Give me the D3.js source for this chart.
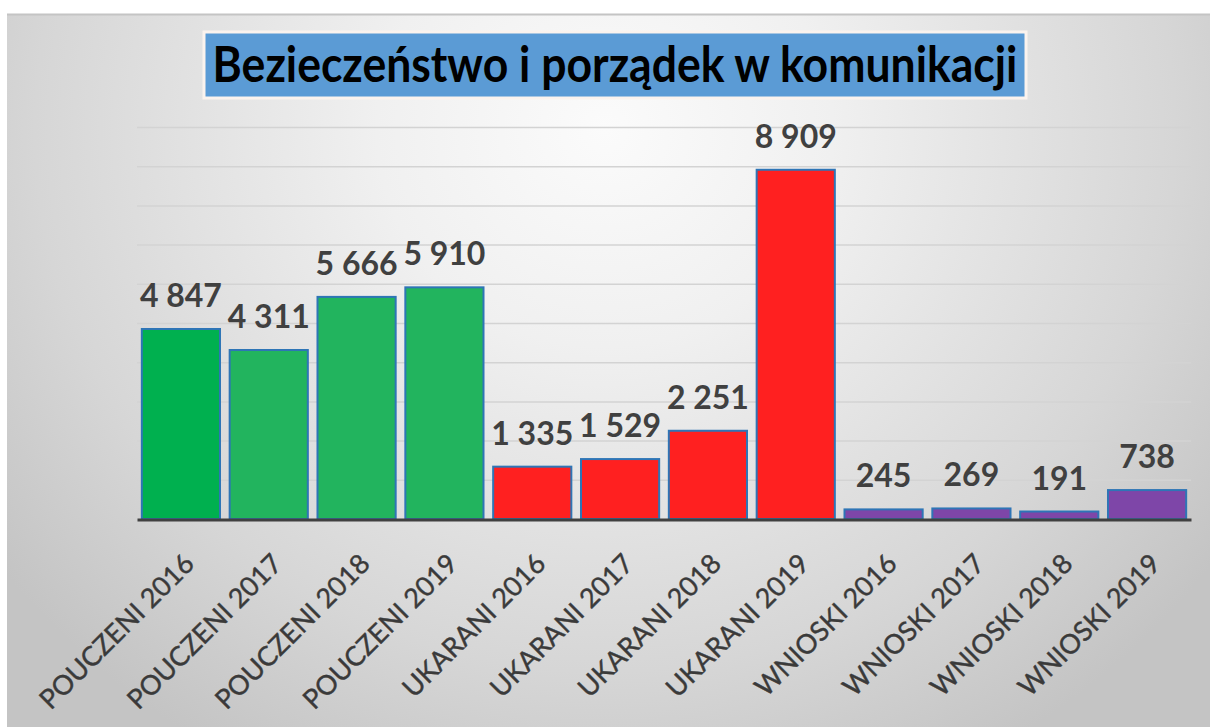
<!DOCTYPE html>
<html><head><meta charset="utf-8">
<script src="https://cdn.jsdelivr.net/npm/d3@7"></script>
<style>html,body{margin:0;padding:0;background:#fff;}svg{display:block;}</style>
</head><body>
<svg id="chart" width="1210" height="727"></svg>
<script>
const title = "Bezieczeństwo i porządek w komunikacji";
const categories = ["POUCZENI 2016","POUCZENI 2017","POUCZENI 2018","POUCZENI 2019",
  "UKARANI 2016","UKARANI 2017","UKARANI 2018","UKARANI 2019",
  "WNIOSKI 2016","WNIOSKI 2017","WNIOSKI 2018","WNIOSKI 2019"];
const values = [4847,4311,5666,5910,1335,1529,2251,8909,245,269,191,738];
const groups = ["POUCZENI","UKARANI","WNIOSKI"];
const yTicks = [0,1000,2000,3000,4000,5000,6000,7000,8000,9000,10000];

const svg = d3.select("#chart");
const W = 1210, H = 727;
const plot = {left:137, right:1191, top:127, bottom:519};

// background
const defs = svg.append("defs");
const rg = defs.append("radialGradient").attr("id","bg")
  .attr("gradientUnits","userSpaceOnUse").attr("cx",605).attr("cy",130).attr("r",760)
  .attr("gradientTransform","translate(605,130) scale(1,0.95) translate(-605,-130)");
[[0,"#fbfbfb"],[0.3,"#f0f0f0"],[0.75,"#d6d6d6"],[1,"#c4c4c4"]].forEach(s=>
  rg.append("stop").attr("offset",s[0]).attr("stop-color",s[1]));
svg.append("rect").attr("x",7).attr("y",14).attr("width",W-7).attr("height",H-14).attr("fill","url(#bg)");
svg.append("line").attr("x1",7).attr("x2",W).attr("y1",14.5).attr("y2",14.5)
  .attr("stroke","#c4c4c4").attr("stroke-width",2);

const x = d3.scaleBand().domain(categories).range([plot.left, plot.right])
  .paddingInner(0.11).paddingOuter(0.055);
const y = d3.scaleLinear().domain([0,10000]).range([plot.bottom, plot.top]);

// gridlines
svg.append("g").attr("transform",`translate(${plot.left},0)`)
  .call(d3.axisLeft(y).tickValues(yTicks.slice(1)).tickSize(-(plot.right-plot.left)).tickFormat(""))
  .call(g=>g.select(".domain").remove())
  .call(g=>g.selectAll("line").attr("stroke","#d3d3d3").attr("stroke-width",1.5));

// bars
const color = d3.scaleOrdinal().domain(groups).range(["#22b45e","#ff2020","#7e46a8"]);
const firstGreen = "#00b04f";
svg.append("g").selectAll("rect").data(categories).join("rect")
  .attr("x", d=>x(d)).attr("width", x.bandwidth())
  .attr("y", (d,i)=>y(values[i])).attr("height",(d,i)=>y(0)-y(values[i]))
  .attr("fill",(d,i)=> i===0 ? firstGreen : color(d.split(" ")[0]))
  .attr("stroke","#2e75b6").attr("stroke-width",2);

// value labels
const fmt = d3.formatLocale({decimal:",",thousands:" ",grouping:[3],currency:["",""]}).format(",d");
svg.append("g").selectAll("text").data(categories).join("text")
  .attr("x", d=>x(d)+x.bandwidth()/2).attr("y",(d,i)=>y(values[i])-22)
  .attr("text-anchor","middle")
  .attr("font-family","Lato, 'Open Sans', sans-serif").attr("font-weight","bold")
  .attr("font-size",32).attr("fill","#404040")
  .text((d,i)=>fmt(values[i]));

// x axis
const xa = svg.append("g").attr("transform",`translate(0,${plot.bottom+0.5})`)
  .call(d3.axisBottom(x).tickSize(0).tickSizeOuter(0));
xa.select(".domain").attr("stroke","#404040").attr("stroke-width",3);
xa.selectAll(".tick text")
  .attr("font-family","Lato, 'Open Sans', sans-serif").attr("font-size",27)
  .attr("fill","#3a3a3a").attr("stroke","#3a3a3a").attr("stroke-width",0.4)
  .attr("text-anchor","end")
  .attr("x",0).attr("y",0).attr("dy",0)
  .attr("transform","translate(15,46) rotate(-45)");

// title
const tg = svg.append("g");
tg.append("rect").attr("x",204).attr("y",32).attr("width",822).attr("height",66)
  .attr("fill","#5b9bd5").attr("stroke","#fbf3ee").attr("stroke-width",3);
const tt = tg.append("text").attr("x",0).attr("y",0).attr("text-anchor","middle")
  .attr("font-family","Lato, 'Open Sans', sans-serif").attr("font-weight","bold")
  .attr("font-size",49).attr("fill","#000").text(title);
const tw = tt.node().getComputedTextLength();
tt.attr("transform",`translate(615,82) scale(${805/tw},1)`);
</script>
</body></html>
